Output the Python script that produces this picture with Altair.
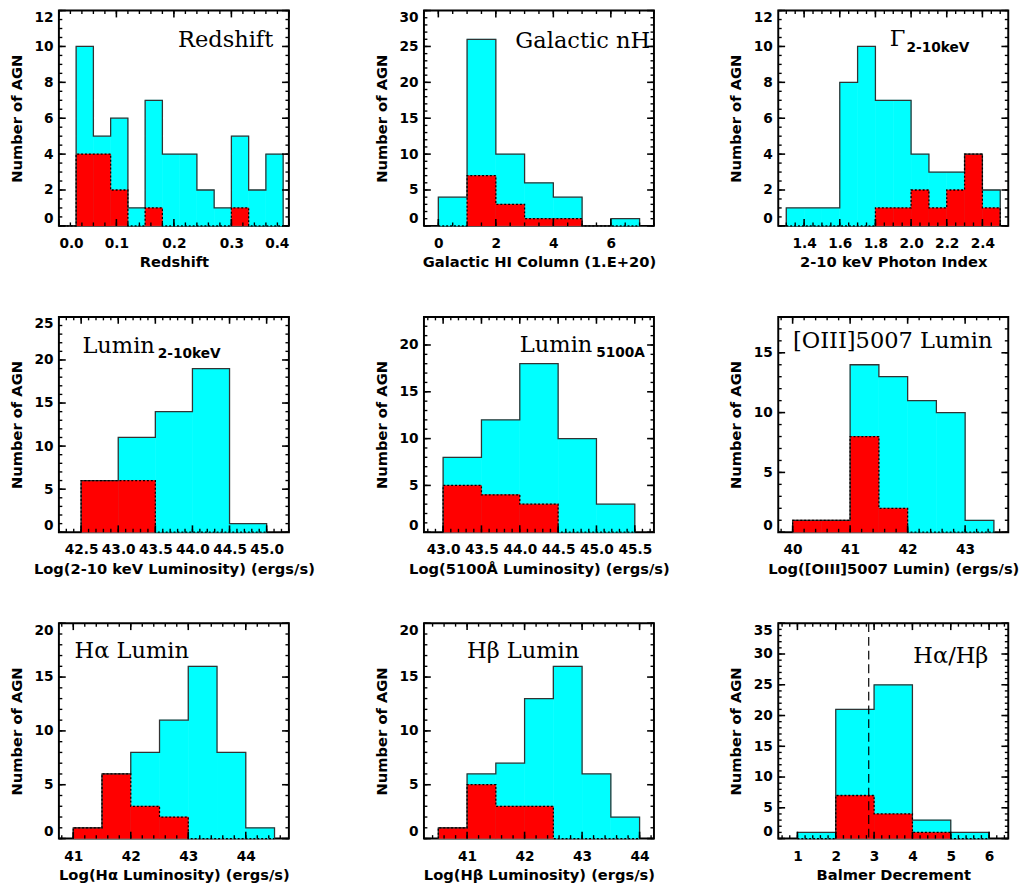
import altair as alt
import pandas as pd
import numpy as np

CYAN = "#00FFFF"
RED = "#FF0000"
W, H = 235, 220

# ---------------- data ----------------
z_edges = [0.00, 0.03, 0.06, 0.09, 0.12, 0.15, 0.18, 0.21, 0.24, 0.27, 0.30, 0.33, 0.36, 0.39]
z_all = [0, 10, 5, 6, 1, 7, 4, 4, 2, 1, 5, 2, 4]
z_sub = [0, 4, 4, 2, 0, 1, 0, 0, 0, 0, 1, 0, 0]

nh_edges = [0, 1, 2, 3, 4, 5, 6, 7]
nh_all = [4, 26, 10, 6, 4, 0, 1]
nh_sub = [0, 7, 3, 1, 1, 0, 0]

g_edges = [1.3, 1.4, 1.5, 1.6, 1.7, 1.8, 1.9, 2.0, 2.1, 2.2, 2.3, 2.4, 2.5]
g_all = [1, 1, 1, 8, 10, 7, 7, 4, 3, 3, 4, 2]
g_sub = [0, 0, 0, 0, 0, 1, 1, 2, 1, 2, 4, 1]

lx_edges = [42.5, 43.0, 43.5, 44.0, 44.5, 45.0]
lx_all = [6, 11, 14, 19, 1]
lx_sub = [6, 6, 0, 0, 0]

l51_edges = [43.0, 43.5, 44.0, 44.5, 45.0, 45.5]
l51_all = [8, 12, 18, 10, 3]
l51_sub = [5, 4, 3, 0, 0]

o3_edges = [40.0, 40.5, 41.0, 41.5, 42.0, 42.5, 43.0, 43.5]
o3_all = [1, 1, 14, 13, 11, 10, 1]
o3_sub = [1, 1, 8, 2, 0, 0, 0]

ha_edges = [41.0, 41.5, 42.0, 42.5, 43.0, 43.5, 44.0, 44.5]
ha_all = [1, 6, 8, 11, 16, 8, 1]
ha_sub = [1, 6, 3, 2, 0, 0, 0]

hb_edges = [40.5, 41.0, 41.5, 42.0, 42.5, 43.0, 43.5, 44.0]
hb_all = [1, 6, 7, 13, 16, 6, 2]
hb_sub = [1, 5, 3, 3, 0, 0, 0]

bd_edges = [1, 2, 3, 4, 5, 6]
bd_all = [1, 21, 25, 3, 1]
bd_sub = [0, 7, 4, 1, 0]
bd_caseB = 2.86

LABEL_FONT = "DejaVu Sans"
TITLE_FONT = "DejaVu Serif"


def step_frame(edges, counts):
    xs = [edges[0]] + list(edges[:-1]) + [edges[-1]]
    ys = [0] + list(counts) + [0]
    return pd.DataFrame({"x": xs, "y": ys, "i": list(range(len(xs)))})


def tick_values(lo, hi, step):
    n0 = int(np.ceil(lo / step - 1e-9))
    n1 = int(np.floor(hi / step + 1e-9))
    return [round(k * step, 6) for k in range(n0, n1 + 1)]


def panel(edges, tot, sub, xdom, ymax, xticks, xfmt, xtitle, yticks,
          xminor, yminor, title, tx, ty, talign="left",
          subtxt=None, sx=0, sy=0, vline=None):
    xs = alt.Scale(domain=xdom, nice=False, zero=False)
    ys = alt.Scale(domain=[0, ymax], nice=False, zero=False)
    ax = alt.Axis(values=xticks, format=xfmt, title=xtitle, ticks=False,
                  domain=False, grid=False, labelPadding=11, titlePadding=5)
    ay = alt.Axis(values=yticks, format="d", title="Number of AGN", ticks=False,
                  domain=False, grid=False, labelPadding=6, titlePadding=10,
                  labelFlush=True)
    hist = pd.DataFrame({"lo": edges[:-1], "hi": edges[1:], "tot": tot, "sub": sub})

    def X(f):
        return alt.X(f, scale=xs, axis=ax)

    def Y(f):
        return alt.Y(f, scale=ys, axis=ay)

    base = alt.Chart(hist).transform_filter("datum.tot > 0").mark_rect(
        color=CYAN, stroke=CYAN, strokeWidth=0.6).encode(
        x=X("lo:Q"), x2="hi:Q", y=Y("tot:Q"), y2=alt.datum(0))
    red = alt.Chart(hist).transform_filter("datum.sub > 0").mark_rect(
        color=RED, stroke=RED, strokeWidth=0.6).encode(
        x=X("lo:Q"), x2="hi:Q", y=Y("sub:Q"), y2=alt.datum(0))

    def outline(counts, dash, color):
        kw = dict(interpolate="step-after", color=color, strokeWidth=1.3)
        if dash:
            kw["strokeDash"] = [2, 2]
        return alt.Chart(step_frame(edges, counts)).mark_line(**kw).encode(
            x=X("x:Q"), y=Y("y:Q"), order="i:Q")

    layers = [base, red, outline(tot, False, "#333333"), outline(sub, True, "black")]

    xmaj = pd.DataFrame({"v": xticks})
    xmin_ = pd.DataFrame({"v": tick_values(xdom[0], xdom[1], xminor)})
    ymaj = pd.DataFrame({"v": yticks})
    ymin_ = pd.DataFrame({"v": tick_values(0, ymax, yminor)})

    for df, L, sw in [(xmaj, 7, 1.6), (xmin_, 3.5, 1.4)]:
        for y0, y1 in [(H, H - L), (0, L)]:
            layers.append(alt.Chart(df).mark_rule(color="black", strokeWidth=sw).encode(
                x=X("v:Q"), y=alt.value(y0), y2=alt.value(y1)))
    for df, L, sw in [(ymaj, 7, 1.6), (ymin_, 3.5, 1.4)]:
        for x0, x1 in [(0, L), (W, W - L)]:
            layers.append(alt.Chart(df).mark_rule(color="black", strokeWidth=sw).encode(
                y=Y("v:Q"), x=alt.value(x0), x2=alt.value(x1)))

    if vline is not None:
        layers.append(alt.Chart(pd.DataFrame({"v": [vline]})).mark_rule(
            color="black", strokeDash=[9, 5], strokeWidth=1.2).encode(x=X("v:Q")))

    layers.append(alt.Chart(pd.DataFrame({"t": [title]})).mark_text(
        font=TITLE_FONT, fontSize=23, align=talign, baseline="alphabetic", color="black").encode(
        text="t:N", x=alt.value(tx), y=alt.value(ty)))
    if subtxt:
        layers.append(alt.Chart(pd.DataFrame({"t": [subtxt]})).mark_text(
            font=LABEL_FONT, fontSize=14, fontWeight="bold", align="left",
            baseline="alphabetic", color="black").encode(
            text="t:N", x=alt.value(sx), y=alt.value(sy)))

    return alt.layer(*layers).properties(width=W, height=H)


p1 = panel(z_edges, z_all, z_sub, [0.0, 0.4], 12, [0.0, 0.1, 0.2, 0.3, 0.4], ".1f",
           "Redshift", [0, 2, 4, 6, 8, 10, 12], 0.02, 0.5, "Redshift", 219, 37, "right")
p2 = panel(nh_edges, nh_all, nh_sub, [-0.5, 7.5], 30, [0, 2, 4, 6], "d",
           "Galactic HI Column (1.E+20)", [0, 5, 10, 15, 20, 25, 30], 0.5, 1,
           "Galactic nH", 231, 38, "right")
p3 = panel(g_edges, g_all, g_sub, [1.255, 2.545], 12, [1.4, 1.6, 1.8, 2.0, 2.2, 2.4], ".1f",
           "2-10 keV Photon Index", [0, 2, 4, 6, 8, 10, 12], 0.05, 0.5,
           "Γ", 114, 36, "left", "2-10keV", 131, 42)
p4 = panel(lx_edges, lx_all, lx_sub, [42.2, 45.3], 25, [42.5, 43.0, 43.5, 44.0, 44.5, 45.0], ".1f",
           "Log(2-10 keV Luminosity) (ergs/s)", [0, 5, 10, 15, 20, 25], 0.1, 1,
           "Lumin", 24, 37, "left", "2-10keV", 101, 42)
p5 = panel(l51_edges, l51_all, l51_sub, [42.75, 45.75], 23, [43.0, 43.5, 44.0, 44.5, 45.0, 45.5], ".1f",
           "Log(5100Å Luminosity) (ergs/s)", [0, 5, 10, 15, 20], 0.1, 1,
           "Lumin", 98, 36, "left", "5100A", 176, 41)
p6 = panel(o3_edges, o3_all, o3_sub, [39.75, 43.75], 18, [40, 41, 42, 43], "d",
           "Log([OIII]5007 Lumin) (ergs/s)", [0, 5, 10, 15], 0.2, 1,
           "[OIII]5007 Lumin", 15, 32, "left")
p7 = panel(ha_edges, ha_all, ha_sub, [40.75, 44.75], 20, [41, 42, 43, 44], "d",
           "Log(Hα Luminosity) (ergs/s)", [0, 5, 10, 15, 20], 0.2, 1,
           "Hα Lumin", 16, 36, "left")
p8 = panel(hb_edges, hb_all, hb_sub, [40.25, 44.25], 20, [41, 42, 43, 44], "d",
           "Log(Hβ Luminosity) (ergs/s)", [0, 5, 10, 15, 20], 0.2, 1,
           "Hβ Lumin", 44, 36, "left")
p9 = panel(bd_edges, bd_all, bd_sub, [0.5, 6.5], 35, [1, 2, 3, 4, 5, 6], "d",
           "Balmer Decrement", [0, 5, 10, 15, 20, 25, 30, 35], 0.2, 1,
           "Hα/Hβ", 138, 41, "left", vline=bd_caseB)

chart = alt.concat(p1, p2, p3, p4, p5, p6, p7, p8, p9, columns=3,
                   spacing={"row": 45, "column": 58}).properties(
    padding={"left": 0, "top": -9, "right": 0, "bottom": 0},
    background="white",
).configure_view(
    stroke="black", strokeWidth=2
).configure_axis(
    labelFont=LABEL_FONT, labelFontSize=14, labelFontWeight="bold", labelColor="black",
    titleFont=LABEL_FONT, titleFontSize=15, titleFontWeight="bold", titleColor="black",
)

chart.save("out.html", embed_options={"renderer": "svg", "actions": False})
